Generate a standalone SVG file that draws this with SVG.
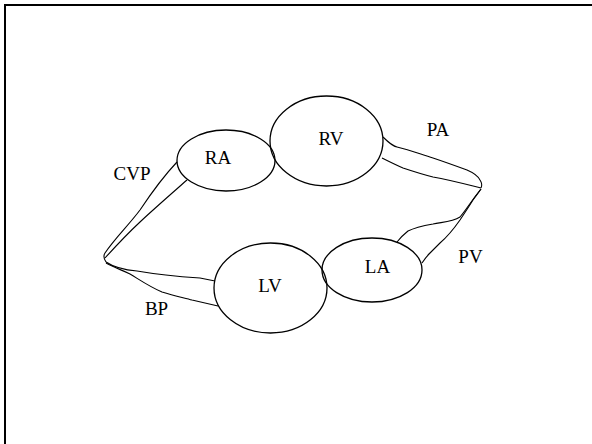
<svg xmlns="http://www.w3.org/2000/svg" width="592" height="444" viewBox="0 0 592 444">
<style>
.n{fill:none;stroke:#000;stroke-width:1.3}
.c{fill:none;stroke:#000;stroke-width:1.1;stroke-linejoin:round}
text{font-family:"Liberation Serif","Times New Roman",serif;font-size:19px;fill:#000}
</style>
<rect x="0" y="0" width="592" height="444" fill="#fff"/>
<rect x="5" y="5" width="620" height="480" fill="none" stroke="#000" stroke-width="2"/>
<g id="connectors">
<path class="c" d="M177,162 C160,180 150,195 140,210 C128,226 115,238 105,253 C103,256 104,259 106,262"/>
<path class="c" d="M187,180 C170,195 155,208 140,222 C125,236 115,247 105,258"/>
<path class="c" d="M106,262 C115,268 125,270 137,271 C160,275 185,277 200,278 L215,281"/>
<path class="c" d="M106,263 C115,268 122,270 130,274 C140,280 150,287 162,292 C175,296 185,298 192,300 L218,306"/>
<path class="c" d="M383,137 C388,142 392,146 397,147 C410,150 420,154 433,158 C445,162 456,166 467,170 C474,173 478,176 480,180 C482,183 482,186 481,188"/>
<path class="c" d="M382,158 C390,162 396,165 403,168 C415,172 425,175 433,177 C450,180 465,184 481,188"/>
<path class="c" d="M481,189 C472,200 466,210 460,217 C452,222 442,222 433,224 C422,226 414,228 408,231 C403,235 400,238 397,242"/>
<path class="c" d="M481,189 C477,195 475,197 473,200 C468,208 464,214 460,220 C453,230 447,237 440,243 C435,248 432,251 430,253 C426,257 424,260 422,263"/>
</g>
<g id="RA"><ellipse class="n" cx="226" cy="160.5" rx="49" ry="30.5"/><text x="218" y="164" text-anchor="middle">RA</text></g>
<g id="RV"><ellipse class="n" cx="326.5" cy="141" rx="56.5" ry="45"/><text x="331" y="145" text-anchor="middle">RV</text></g>
<g id="LA"><ellipse class="n" cx="372" cy="270" rx="50" ry="32"/><text x="377.5" y="273" text-anchor="middle">LA</text></g>
<g id="LV"><ellipse class="n" cx="270.5" cy="288" rx="56.5" ry="45"/><text x="270" y="292" text-anchor="middle">LV</text></g>
<g id="labels">
<text x="132" y="180" text-anchor="middle">CVP</text>
<text x="438" y="136" text-anchor="middle">PA</text>
<text x="470.5" y="263" text-anchor="middle">PV</text>
<text x="156.5" y="315" text-anchor="middle">BP</text>
</g>
</svg>
